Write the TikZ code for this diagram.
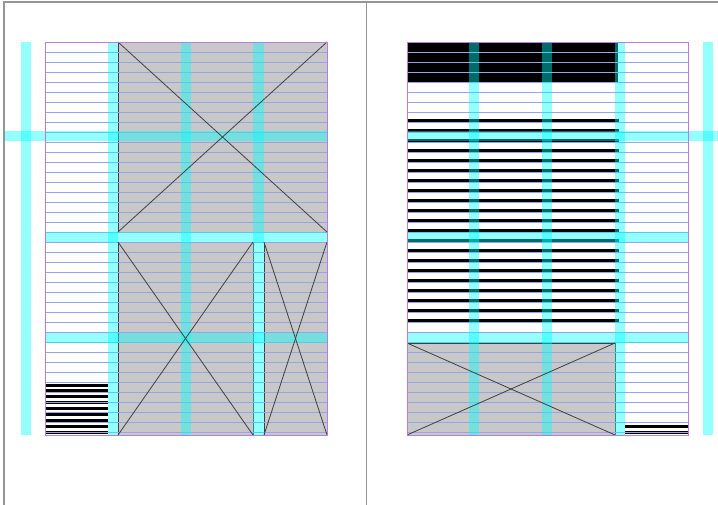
\documentclass[tikz,border=0pt]{standalone}
\usepackage{tikz}

\definecolor{grille}{RGB}{150,165,230}
\definecolor{violet}{RGB}{185,125,225}
\definecolor{cadre}{RGB}{150,150,150}
\definecolor{photo}{RGB}{200,200,200}
\definecolor{repere}{RGB}{0,255,255}

\begin{document}
\begin{tikzpicture}[x=1pt,y=-1pt,
  imgbox/.style={draw=black!75,line width=0.8pt,fill=photo,rectangle,
    anchor=north west,inner sep=0pt,outer sep=0pt},
  margebox/.style={draw=violet,line width=0.9pt,rectangle,
    anchor=north west,inner sep=0pt,outer sep=0pt},
  diag/.style={draw=black!75,line width=0.8pt},
  ligne/.style={draw=grille,line width=0.8pt},
  barre/.style={draw=black,line width=3pt},
  guide/.style={fill=repere,fill opacity=0.42}]

\useasboundingbox (0,0) rectangle (718,505);

% Cadre des deux pages
\draw[cadre,line width=1.6pt] (4,505) -- (4,2) -- (718,2);
\draw[cadre,line width=1.6pt] (366.5,2) -- (366.5,505);

% Images de la page gauche
\node[imgbox,minimum width=209pt,minimum height=190pt] (haut) at (118,42) {};
\node[imgbox,minimum width=135pt,minimum height=193pt] (basg) at (118,242) {};
\node[imgbox,minimum width=63pt,minimum height=193pt] (basd) at (264,242) {};

% Image de la page droite
\node[imgbox,minimum width=208pt,minimum height=92pt] (photod) at (407,343) {};

% Bloc noir en haut a droite
\fill[black] (407,42) rectangle (618,82);

% Texte en noir
\foreach \k in {0,...,8}
  \draw[barre] (45,{385+5.9*\k}) -- (108,{385+5.9*\k});
\foreach \k in {0,...,20}
  \draw[barre] (407,{120.5+10*\k}) -- (619,{120.5+10*\k});
\foreach \k in {0,1}
  \draw[barre] (625,{426.5+6*\k}) -- (688,{426.5+6*\k});

% Lignes de base
\foreach \k in {0,...,38} {
  \draw[ligne] (45,{52+10*\k}) -- (327,{52+10*\k});
  \draw[ligne] (407,{52+10*\k}) -- (688,{52+10*\k});
}

% Reperes cyan, page gauche
\fill[guide] (21,42) rectangle (31,435);
\fill[guide] (108,42) rectangle (118,435);
\fill[guide] (181,42) rectangle (191,435);
\fill[guide] (253,42) rectangle (264,435);
\fill[guide] (5,131) rectangle (327,141);
\fill[guide] (45,232) rectangle (327,242);
\fill[guide] (45,333) rectangle (327,343);

% Reperes cyan, page droite
\fill[guide] (469,42) rectangle (479,435);
\fill[guide] (542,42) rectangle (552,435);
\fill[guide] (615,42) rectangle (625,435);
\fill[guide] (703,42) rectangle (713,435);
\fill[guide] (407,131) rectangle (718,141);
\fill[guide] (407,232) rectangle (688,242);
\fill[guide] (407,333) rectangle (688,343);

% Croix dans les images
\draw[diag] (haut.north west) -- (haut.south east);
\draw[diag] (haut.north east) -- (haut.south west);
\draw[diag] (basg.north west) -- (basg.south east);
\draw[diag] (basg.north east) -- (basg.south west);
\draw[diag] (basd.north west) -- (basd.south east);
\draw[diag] (basd.north east) -- (basd.south west);
\draw[diag] (photod.north west) -- (photod.south east);
\draw[diag] (photod.north east) -- (photod.south west);

% Marges
\node[margebox,minimum width=282pt,minimum height=393pt] (pageg) at (45,42) {};
\node[margebox,minimum width=281pt,minimum height=393pt] (paged) at (407,42) {};

\end{tikzpicture}
\end{document}
